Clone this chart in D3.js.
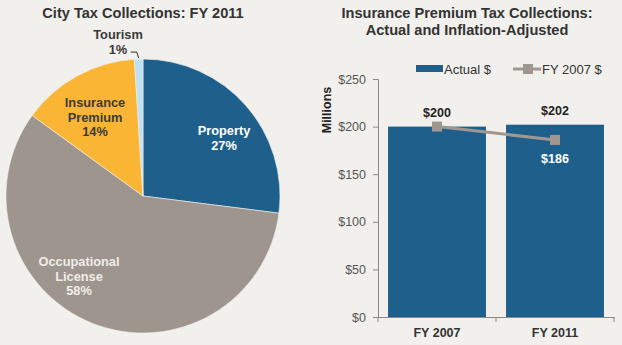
<!DOCTYPE html>
<html>
<head>
<meta charset="utf-8">
<script src="https://cdn.jsdelivr.net/npm/d3@7"></script>
<style>
  body { margin: 0; background: #f2f0ec; }
  svg { display: block; font-family: "Liberation Sans", Arial, sans-serif; }
</style>
</head>
<body>
<div id="chart"></div>
<script>
// Pie data
var pieNames = ['Property', 'Occupational License', 'Insurance Premium', 'Tourism'];
var pieValues = [27, 58, 14, 1];
var pieColors = ['#1f5f8b', '#9e958e', '#fbb535', '#c0e1f1'];

// Bar + line data
var years = ['FY 2007', 'FY 2011'];
var actualValues = [200, 202];
var adjustedValues = [200, 186];
var yTicks = [0, 50, 100, 150, 200, 250];

var svg = d3.select('#chart').append('svg')
    .attr('width', 622)
    .attr('height', 345);

svg.append('rect').attr('width', 622).attr('height', 345).attr('fill', '#f2f0ec');

/* Left: pie chart */
var pieGroup = svg.append('g').attr('transform', 'translate(143,196)');
var radius = 137;

svg.append('text')
    .attr('x', 143).attr('y', 18)
    .attr('text-anchor', 'middle')
    .attr('font-size', 14.6).attr('font-weight', 'bold').attr('fill', '#333')
    .text('City Tax Collections: FY 2011');

var pie = d3.pie().sort(null).value(function(d) { return d; });
var arc = d3.arc().innerRadius(0).outerRadius(radius);
var slices = pie(pieValues);

pieGroup.selectAll('.slice')
    .data(slices)
    .enter()
    .append('path')
    .attr('class', 'slice')
    .attr('d', arc)
    .attr('fill', function(d, i) { return pieColors[i]; })
    .attr('stroke', '#f2f0ec')
    .attr('stroke-width', 0.6);

//Slice labels: lines, position (relative to pie centre), colour
var pieLabels = [
    { lines: ['Property', '27%'], x: 81, y: -61, color: '#ffffff' },
    { lines: ['Occupational', 'License', '58%'], x: -64, y: 70, color: '#f0ede8' },
    { lines: ['Insurance', 'Premium', '14%'], x: -48, y: -89, color: '#3a3a3a' },
    { lines: ['Tourism', '1%'], x: -25, y: -157, color: '#3a3a3a' }
];

pieLabels.forEach(function(l) {
    var t = pieGroup.append('text')
        .attr('text-anchor', 'middle')
        .attr('font-size', 12.8).attr('font-weight', 'bold')
        .attr('fill', l.color);
    l.lines.forEach(function(line, k) {
        t.append('tspan').attr('x', l.x).attr('y', l.y + k * 14.5).text(line);
    });
});

//Tourism leader line
var tourismMid = (slices[3].startAngle + slices[3].endAngle) / 2;
var edge = [Math.sin(tourismMid) * radius, -Math.cos(tourismMid) * radius];
pieGroup.append('path')
    .attr('d', 'M' + edge[0] + ',' + (edge[1] - 1) + 'L' + (edge[0] - 2) + ',' + (edge[1] - 7) + 'L' + (edge[0] - 8) + ',' + (edge[1] - 7))
    .attr('fill', 'none').attr('stroke', '#333').attr('stroke-width', 1);

/* Right: bar + line chart */
var x = d3.scaleBand().domain(years).range([378, 614]).paddingInner(0.17).paddingOuter(0.085);
var y = d3.scaleLinear().domain([0, 250]).range([317, 79]);

svg.append('text')
    .attr('text-anchor', 'middle')
    .attr('font-size', 14.6).attr('font-weight', 'bold').attr('fill', '#333')
    .selectAll('tspan')
    .data(['Insurance Premium Tax Collections:', 'Actual and Inflation-Adjusted'])
    .enter().append('tspan')
    .attr('x', 467).attr('y', function(d, i) { return 18 + i * 17; })
    .text(function(d) { return d; });

svg.append('g').selectAll('.bar')
    .data(actualValues)
    .enter()
    .append('rect')
    .attr('class', 'bar')
    .attr('x', function(d, i) { return x(years[i]); })
    .attr('y', function(d) { return y(d); })
    .attr('width', x.bandwidth())
    .attr('height', function(d) { return y(0) - y(d); })
    .attr('fill', '#1f5f8b');

//Axes
var yAxis = svg.append('g')
    .attr('transform', 'translate(378,0)')
    .call(d3.axisLeft(y).tickValues(yTicks).tickSize(5).tickFormat(function(d) { return '$' + d; }));
yAxis.select('.domain').attr('stroke', '#888');
yAxis.selectAll('.tick line').attr('stroke', '#888');
yAxis.selectAll('.tick text')
    .attr('font-family', '"Liberation Sans", Arial, sans-serif')
    .attr('font-size', 12.5).attr('fill', '#555').attr('x', -12);

var xAxis = svg.append('g')
    .attr('transform', 'translate(0,317)')
    .call(d3.axisBottom(x).tickSize(0).tickSizeOuter(0));
xAxis.select('.domain').attr('stroke', '#888');
xAxis.selectAll('.tick text')
    .attr('font-family', '"Liberation Sans", Arial, sans-serif')
    .attr('font-size', 12.5).attr('font-weight', 'bold').attr('fill', '#333')
    .attr('y', 20).attr('dy', 0);
//Category boundary ticks
svg.append('g').selectAll('.xtick')
    .data([0, 1, 2])
    .enter()
    .append('line')
    .attr('x1', function(d) { return 378 + d * x.step(); })
    .attr('x2', function(d) { return 378 + d * x.step(); })
    .attr('y1', 317).attr('y2', 322)
    .attr('stroke', '#888');

svg.append('text')
    .attr('transform', 'translate(331,110) rotate(-90)')
    .attr('text-anchor', 'middle')
    .attr('font-size', 12.5).attr('font-weight', 'bold').attr('fill', '#222')
    .text('Millions');

//Inflation-adjusted line
var center = function(i) { return x(years[i]) + x.bandwidth() / 2; };
var line = d3.line()
    .x(function(d, i) { return center(i); })
    .y(function(d) { return y(d); });

svg.append('path')
    .datum(adjustedValues)
    .attr('d', line)
    .attr('fill', 'none').attr('stroke', '#a09890').attr('stroke-width', 3);

svg.append('g').selectAll('.marker')
    .data(adjustedValues)
    .enter()
    .append('rect')
    .attr('class', 'marker')
    .attr('x', function(d, i) { return center(i) - 5; })
    .attr('y', function(d) { return y(d) - 5; })
    .attr('width', 10).attr('height', 10)
    .attr('fill', '#a09890');

//Value labels
svg.append('g').selectAll('.actualLabel')
    .data(actualValues)
    .enter()
    .append('text')
    .attr('x', function(d, i) { return center(i); })
    .attr('y', function(d) { return y(d) - 10; })
    .attr('text-anchor', 'middle')
    .attr('font-size', 12.5).attr('font-weight', 'bold').attr('fill', '#222')
    .text(function(d) { return '$' + d; });

svg.append('text')
    .attr('x', center(1))
    .attr('y', y(adjustedValues[1]) + 23)
    .attr('text-anchor', 'middle')
    .attr('font-size', 12.5).attr('font-weight', 'bold').attr('fill', '#fff')
    .text('$' + adjustedValues[1]);

//Legend
var legend = svg.append('g');
legend.append('rect')
    .attr('x', 416).attr('y', 65).attr('width', 27).attr('height', 7)
    .attr('fill', '#1f5f8b');
legend.append('text')
    .attr('x', 444).attr('y', 74)
    .attr('font-size', 13).attr('fill', '#333')
    .text('Actual $');
legend.append('line')
    .attr('x1', 513).attr('x2', 541).attr('y1', 69).attr('y2', 69)
    .attr('stroke', '#a09890').attr('stroke-width', 3);
legend.append('rect')
    .attr('x', 523).attr('y', 64).attr('width', 10).attr('height', 10)
    .attr('fill', '#a09890');
legend.append('text')
    .attr('x', 542).attr('y', 74)
    .attr('font-size', 13).attr('fill', '#333')
    .text('FY 2007 $');
</script>
</body>
</html>
